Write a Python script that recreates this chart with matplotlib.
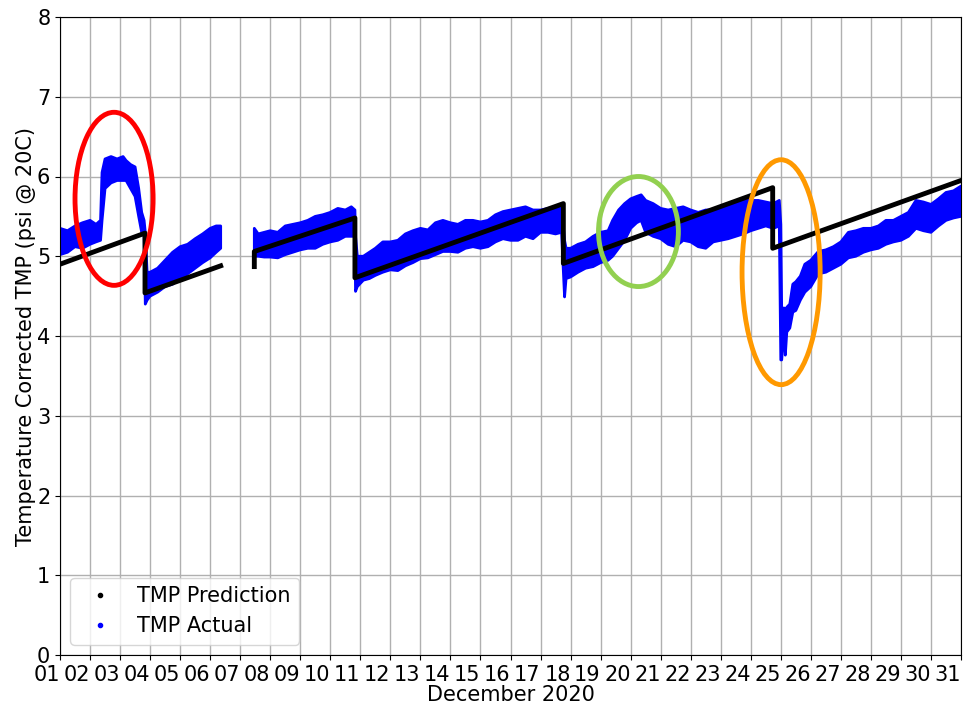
import numpy as np
import matplotlib
matplotlib.use("Agg")
import matplotlib.pyplot as plt
import matplotlib.dates as mdates
from matplotlib.patches import Ellipse
from matplotlib.lines import Line2D
from datetime import datetime

# --- data (day of December 2020, fractional) ---
# TMP prediction: sawtooth, nan = break in data
pred_day = [1.00, 3.83, 3.83, 6.35, np.nan,
            7.47, 7.47, 10.82, 10.82, 17.76, 17.76, 24.73, 24.73, 31.00]
pred_val = [4.90, 5.29, 4.54, 4.88, np.nan,
            4.87, 5.06, 5.48, 4.73, 5.66, 4.91, 5.86, 5.10, 5.95]

# TMP actual: band of measured values (low / high) read per time step
act_day = [1.00, 1.25, 1.50, 1.75, 2.00, 2.20, 2.35, 2.40, 2.50, 2.70, 2.90, 3.10,
           3.20, 3.35, 3.50, 3.62, 3.72, 3.80, 3.84, 3.90, 4.00, 4.25, 4.50, 4.75,
           5.00, 5.25, 5.50, 5.75, 6.00, 6.20, 6.35, np.nan,
           7.47, 7.60, 7.80, 8.00, 8.25, 8.50, 8.75, 9.00, 9.25, 9.50, 9.75, 10.00,
           10.25, 10.50, 10.70, 10.82, 10.84,
           10.90, 11.10, 11.30, 11.50, 11.75, 12.00, 12.25, 12.50, 12.75, 13.00, 13.25,
           13.50, 13.75, 14.00, 14.25, 14.50, 14.75, 15.00, 15.25, 15.50, 15.75, 16.00,
           16.25, 16.50, 16.75, 17.00, 17.25, 17.50, 17.70, 17.80,
           17.85, 18.00, 18.25, 18.50, 18.75, 19.00, 19.25, 19.40, 19.60, 19.80, 20.00,
           20.20, 20.35, 20.50, 20.75, 21.00, 21.25, 21.50, 21.75, 22.00, 22.25, 22.50,
           22.75, 23.00, 23.25, 23.50, 23.75, 24.00, 24.25, 24.50, 24.75, 24.95, 25.00,
           25.03, 25.08, 25.12, 25.15, 25.20, 25.30, 25.40, 25.50, 25.65, 25.80, 26.00,
           26.25, 26.50, 26.75, 27.00, 27.25, 27.50, 27.75, 28.00, 28.25, 28.50, 28.75,
           29.00, 29.25, 29.50, 29.75, 30.00, 30.25, 30.50, 30.75, 31.00]
act_lo = [5.02, 5.05, 5.12, 5.10, 5.15, 5.18, 5.20, 5.45, 5.85, 5.92, 5.95, 5.95,
          5.95, 5.85, 5.75, 5.50, 5.30, 5.28, 4.40, 4.45, 4.50, 4.55, 4.62, 4.65,
          4.72, 4.78, 4.85, 4.92, 4.98, 5.05, 5.10, np.nan,
          5.00, 5.00, 4.99, 4.99, 4.98, 5.02, 5.05, 5.08, 5.10, 5.10, 5.15, 5.18,
          5.20, 5.25, 5.25, 5.25, 4.56,
          4.62, 4.70, 4.72, 4.76, 4.80, 4.83, 4.82, 4.88, 4.92, 4.97, 4.98,
          5.02, 5.06, 5.06, 5.05, 5.10, 5.12, 5.10, 5.12, 5.18, 5.22, 5.20,
          5.20, 5.25, 5.22, 5.30, 5.30, 5.28, 5.30, 4.49,
          4.72, 4.74, 4.80, 4.85, 4.87, 4.92, 4.95, 5.00, 5.10, 5.20, 5.35,
          5.42, 5.45, 5.30, 5.25, 5.22, 5.15, 5.12, 5.20, 5.18, 5.12, 5.10,
          5.18, 5.20, 5.22, 5.25, 5.28, 5.32, 5.35, 5.38, 5.35, 5.38, 3.70,
          3.70, 3.95, 4.05, 3.76, 4.05, 4.10, 4.30, 4.32, 4.45, 4.55, 4.62,
          4.78, 4.80, 4.85, 4.90, 4.98, 5.00, 5.05, 5.08, 5.10, 5.15, 5.18,
          5.20, 5.25, 5.35, 5.32, 5.30, 5.38, 5.45, 5.48, 5.50]
act_hi = [5.35, 5.32, 5.38, 5.42, 5.45, 5.40, 5.45, 6.05, 6.22, 6.25, 6.22, 6.25,
          6.20, 6.15, 6.12, 5.85, 5.55, 5.45, 5.30, 4.80, 4.80, 4.85, 4.95, 5.05,
          5.12, 5.15, 5.22, 5.28, 5.35, 5.38, 5.38, np.nan,
          5.35, 5.28, 5.30, 5.32, 5.30, 5.38, 5.40, 5.42, 5.45, 5.50, 5.52, 5.55,
          5.60, 5.58, 5.62, 5.58, 5.25,
          5.00, 5.00, 5.05, 5.10, 5.18, 5.18, 5.20, 5.28, 5.32, 5.35, 5.33,
          5.42, 5.45, 5.42, 5.40, 5.45, 5.45, 5.43, 5.45, 5.52, 5.56, 5.58,
          5.60, 5.62, 5.58, 5.58, 5.60, 5.62, 5.60, 5.20,
          5.10, 5.10, 5.15, 5.18, 5.25, 5.30, 5.32, 5.45, 5.58, 5.66, 5.72,
          5.75, 5.77, 5.70, 5.66, 5.60, 5.58, 5.60, 5.62, 5.58, 5.55, 5.58,
          5.58, 5.62, 5.66, 5.68, 5.70, 5.70, 5.70, 5.68, 5.66, 5.70, 5.40,
          4.30, 4.35, 4.35, 4.30, 4.36, 4.40, 4.65, 4.68, 4.75, 4.90, 4.95,
          5.06, 5.08, 5.12, 5.18, 5.30, 5.32, 5.35, 5.35, 5.38, 5.45, 5.45,
          5.50, 5.55, 5.70, 5.68, 5.65, 5.72, 5.80, 5.82, 5.88]

# highlighted events: (center day, center TMP, width in days, height in psi, colour)
highlight_day = [2.80, 20.26, 25.01]
highlight_val = [5.72, 5.31, 4.80]
highlight_w = [2.60, 2.66, 2.60]
highlight_h = [2.17, 1.38, 2.82]
highlight_color = ['#ff0000', '#92d050', '#ff9900']

# --- plot ---
d0 = mdates.date2num(datetime(2020, 12, 1))
to_x = lambda days: d0 + (np.array(days, dtype=float) - 1)

fig = plt.figure(figsize=(9.63, 7.06), dpi=100)
ax = fig.add_axes([60 / 963, 51 / 706, 901 / 963, 638 / 706])

ax.fill_between(to_x(act_day), act_lo, act_hi, color='blue',
                edgecolor='blue', linewidth=2, zorder=2)
ax.plot(to_x(pred_day), pred_val, color='black', lw=3.5, zorder=3)

for cd, cv, w, h, c in zip(highlight_day, highlight_val, highlight_w, highlight_h, highlight_color):
    ax.add_patch(Ellipse((to_x([cd])[0], cv), w, h, fill=False, edgecolor=c, lw=3.5, zorder=4))

ax.set_xlim(d0, d0 + 30)
ax.set_ylim(0, 8)
ax.xaxis.set_major_locator(mdates.DayLocator())
ax.xaxis.set_major_formatter(mdates.DateFormatter('%d'))
ax.tick_params(labelsize=15)
ax.tick_params(axis='x', pad=4)
for lab in ax.get_xticklabels():
    lab.set_ha('right')
ax.set_xlabel('December 2020', fontsize=15, labelpad=0)
ax.set_ylabel('Temperature Corrected TMP (psi @ 20C)', fontsize=15, labelpad=1)
ax.grid(True, color='#b0b0b0', lw=1)
ax.set_axisbelow(True)

handles = [Line2D([], [], marker='.', ls='', color='black', markersize=6),
           Line2D([], [], marker='.', ls='', color='blue', markersize=6)]
ax.legend(handles, ['TMP Prediction', 'TMP Actual'], loc='lower left', fontsize=15)

fig.savefig('out.png', dpi=100)
